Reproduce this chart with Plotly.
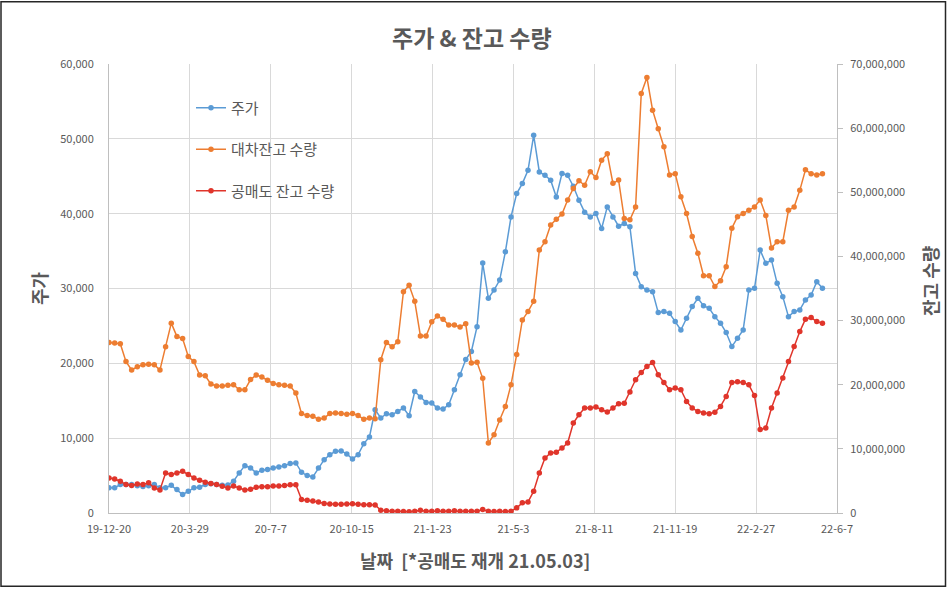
import pandas as pd
import plotly.graph_objects as go

# weekly sample dates (every 7 days from 2019-12-20)
dates = pd.date_range("2019-12-20", periods=127, freq="7D")

price = [3360, 3360, 3800, 3800, 3800, 3650, 3550, 3650, 3800, 3360,
         3360, 3700, 3130, 2470, 2900, 3360, 3450, 3800, 3900, 3800,
         3700, 3750, 4240, 5360, 6330, 6020, 5360, 5710, 5800, 6020,
         6150, 6330, 6600, 6690, 5440, 5000, 4820, 6020, 7130, 7800,
         8240, 8300, 7900, 7220, 7800, 9270, 10160, 13800, 12690, 13270,
         13130, 13580, 14020, 13000, 16240, 15490, 14780, 14690, 14020, 13890,
         14470, 16470, 18470, 20500, 21580, 24900, 33400, 28690, 29800, 31130,
         34900, 39570, 42690, 44020, 45800, 50470, 45570, 45130, 44470, 42240,
         45360, 45130, 43670, 41800, 40200, 39570, 40020, 38020, 40900, 39570,
         38330, 38690, 38240, 32020, 30240, 29800, 29580, 26780, 26910, 26690,
         25580, 24460, 26020, 27580, 28690, 27700, 27360, 26240, 25360, 24110,
         22240, 23360, 24470, 29800, 30020, 35130, 33360, 33800, 30690, 28910,
         26240, 26910, 27130, 28470, 29130, 30910, 30020]

lending = [26.6, 26.5, 26.4, 23.6, 22.3, 22.8, 23.1, 23.2, 23.1, 22.3,
           25.9, 29.6, 27.5, 27.2, 24.4, 23.6, 21.5, 21.4, 20.1, 19.8,
           19.8, 19.9, 20.0, 19.2, 19.2, 20.8, 21.5, 21.2, 20.7, 20.2,
           20.0, 19.9, 19.8, 18.7, 15.5, 15.2, 15.1, 14.6, 14.8, 15.5,
           15.6, 15.5, 15.4, 15.5, 15.2, 14.6, 14.8, 14.7, 23.9, 26.6,
           25.9, 26.7, 34.5, 35.5, 33.0, 27.6, 27.6, 29.8, 30.7, 30.2,
           29.3, 29.3, 29.0, 29.5, 23.4, 23.5, 21.0, 10.9, 12.2, 14.5,
           16.6, 20.0, 24.7, 30.1, 31.4, 33.0, 41.0, 42.3, 44.9, 45.8,
           46.6, 48.8, 50.6, 51.8, 51.1, 53.2, 52.3, 55.0, 56.0, 51.4,
           51.9, 45.9, 45.7, 47.7, 65.4, 67.9, 62.8, 59.9, 57.1, 52.7,
           52.9, 49.3, 46.7, 43.1, 40.5, 37.0, 37.0, 35.3, 36.2, 38.4,
           44.4, 46.2, 46.7, 47.2, 47.7, 48.8, 46.4, 41.3, 42.3, 42.3,
           47.2, 47.7, 50.3, 53.5, 52.9, 52.7, 52.9]

short = [5.47, 5.3, 4.95, 4.43, 4.27, 4.54, 4.43, 4.7, 3.9, 3.6,
         6.25, 6.0, 6.25, 6.5, 6.0, 5.47, 5.1, 4.8, 4.6, 4.43,
         4.17, 3.9, 4.2, 3.9, 3.6, 3.7, 4.0, 4.1, 4.1, 4.2,
         4.2, 4.3, 4.4, 4.4, 2.1, 2.0, 1.87, 1.71, 1.5, 1.4,
         1.35, 1.35, 1.4, 1.45, 1.35, 1.3, 1.3, 1.25, 0.44, 0.34,
         0.29, 0.29, 0.23, 0.18, 0.29, 0.44, 0.29, 0.29, 0.34, 0.29,
         0.29, 0.34, 0.29, 0.29, 0.29, 0.29, 0.54, 0.29, 0.23, 0.29,
         0.23, 0.29, 0.8, 1.58, 1.71, 3.4, 6.25, 8.58, 9.36, 9.47,
         10.14, 10.92, 14.03, 15.32, 16.36, 16.36, 16.52, 16.1, 15.74, 16.36,
         17.03, 17.1, 18.85, 20.77, 21.9, 22.84, 23.46, 21.55, 20.35, 19.21,
         19.47, 19.21, 17.4, 16.36, 15.84, 15.6, 15.48, 15.69, 16.62, 18.17,
         20.35, 20.46, 20.35, 19.99, 18.3, 13.0, 13.25, 16.36, 18.7, 21.03,
         23.61, 25.94, 28.28, 30.21, 30.46, 29.84, 29.59]

lending_shares = [v * 1e6 for v in lending]
short_shares = [v * 1e6 for v in short]

FONT = "Noto Sans CJK KR"
TXT = "#595959"
GRID = "#D9D9D9"
AXL = "#BFBFBF"

L, R, T, B = 109, 110, 63.5, 76.5
W, H = 947, 590
PW, PH = W - L - R, H - T - B


def px(x):
    return (x - L) / PW


def py(y):
    return (H - B - y) / PH


fig = go.Figure()
fig.add_trace(go.Scatter(x=dates, y=price, name="주가", mode="lines+markers",
                         line=dict(color="#5B9BD5", width=1.5),
                         marker=dict(size=5.5, color="#5B9BD5"),
                         legendgroup="a", yaxis="y"))
fig.add_trace(go.Scatter(x=dates, y=lending_shares, name="대차잔고 수량", mode="lines+markers",
                         line=dict(color="#ED7D31", width=1.5),
                         marker=dict(size=5.5, color="#ED7D31"),
                         legendgroup="b", yaxis="y2"))
fig.add_trace(go.Scatter(x=dates, y=short_shares, name="공매도 잔고 수량", mode="lines+markers",
                         line=dict(color="#E0352B", width=1.5),
                         marker=dict(size=5.5, color="#E0352B"),
                         legendgroup="c", yaxis="y2"))

fig.update_layout(
    width=W, height=H,
    margin=dict(l=L, r=R, t=T, b=B),
    paper_bgcolor="white", plot_bgcolor="white",
    font=dict(family=FONT, color=TXT, size=11),
    showlegend=True,
    legend=dict(x=px(191), y=py(91), xanchor="left", yanchor="top",
                font=dict(size=15, color=TXT, family=FONT),
                tracegroupgap=19, bgcolor="rgba(0,0,0,0)", itemwidth=30),
    xaxis=dict(type="date", range=["2019-12-20", "2022-06-07"],
               tick0="2019-12-20", dtick=100 * 86400000,
               tickformat="%y-%-m-%-d", showgrid=True, gridcolor=GRID, gridwidth=1,
               showline=True, linecolor=AXL, linewidth=1, ticks="",
               ticklabelstandoff=6, tickfont=dict(size=11, color=TXT), zeroline=False),
    yaxis=dict(range=[0, 60000], dtick=10000, tickformat=",", showgrid=True,
               gridcolor=GRID, gridwidth=1, showline=True, linecolor=AXL, linewidth=1,
               ticks="", ticklabelstandoff=12, zeroline=False,
               tickfont=dict(size=11, color=TXT)),
    yaxis2=dict(range=[0, 70000000], dtick=10000000, tickformat=",", overlaying="y",
                side="right", showgrid=False, showline=True, linecolor=AXL, linewidth=1,
                ticks="outside", ticklen=5, tickcolor=AXL, ticklabelstandoff=5,
                zeroline=False, tickfont=dict(size=11, color=TXT)),
)

annots = [
    dict(text="<b>주가 & 잔고 수량</b>", x=px(472), y=py(36), size=23, angle=0),
    dict(text="<b>날짜  [*공매도 재개 21.05.03]</b>", x=px(475), y=py(561), size=18, angle=0),
    dict(text="<b>주가</b>", x=px(39), y=py(288), size=18, angle=-90),
    dict(text="<b>잔고 수량</b>", x=px(930), y=py(281), size=18, angle=-90),
]
for a in annots:
    fig.add_annotation(text=a["text"], x=a["x"], y=a["y"], xref="paper", yref="paper",
                       showarrow=False, textangle=a["angle"], xanchor="center", yanchor="middle",
                       font=dict(family=FONT, size=a["size"], color=TXT))

fig.add_shape(type="rect", xref="paper", yref="paper",
              x0=px(1), x1=px(945.5), y0=py(587), y1=py(1),
              line=dict(color="#262626", width=1.5), fillcolor="rgba(0,0,0,0)", layer="above")

fig.write_html("out.html")
